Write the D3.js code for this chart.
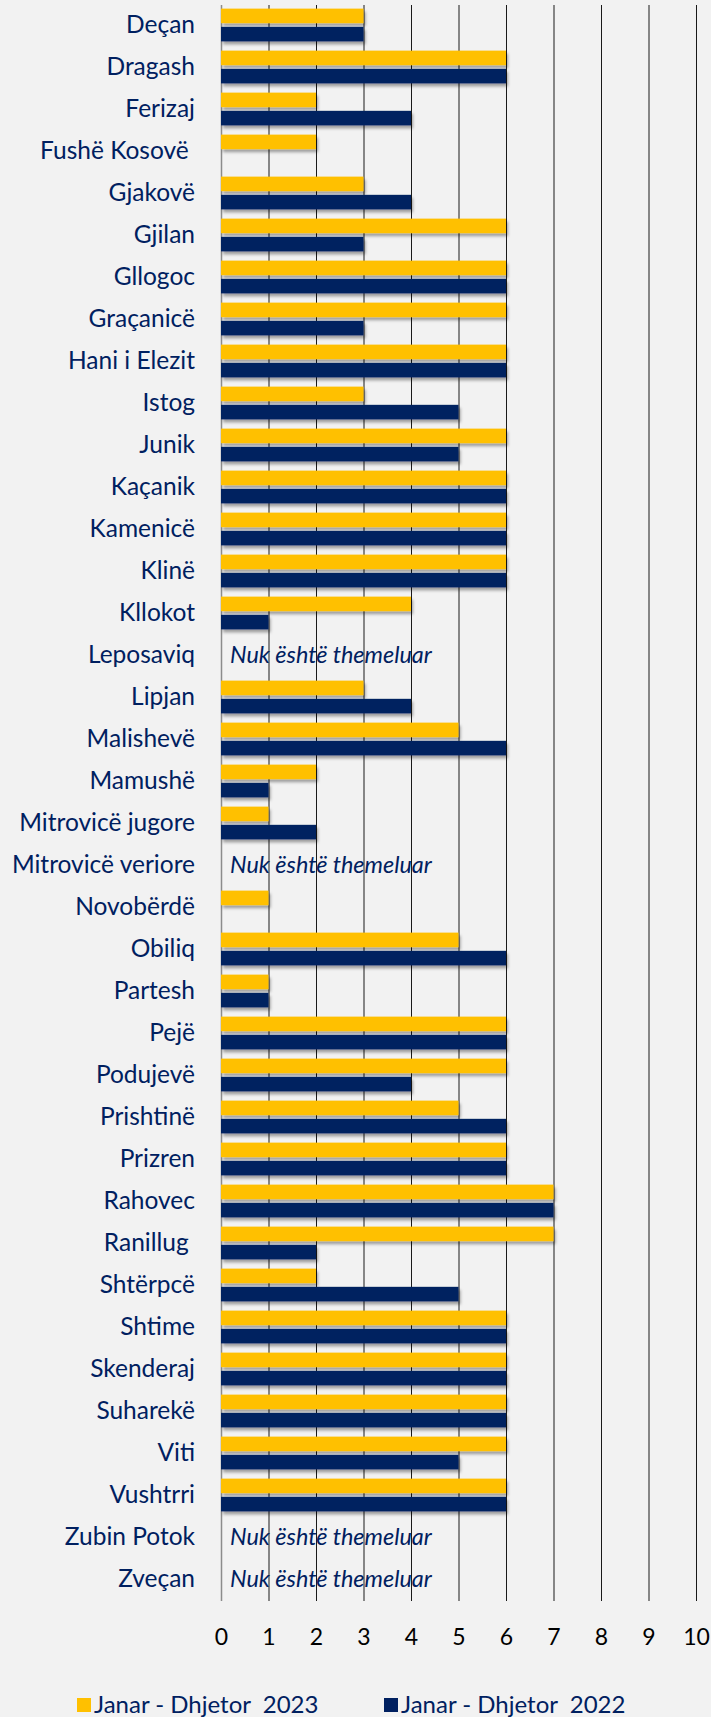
<!DOCTYPE html>
<html>
<head>
<meta charset="utf-8">
<script src="https://cdn.jsdelivr.net/npm/d3@7"></script>
<style>
  html, body { margin: 0; padding: 0; background: #f2f2f2; }
  svg { display: block; font-family: Lato, "Open Sans", sans-serif; }
  text { white-space: pre; }
</style>
</head>
<body>
<div id="chart"></div>
<script>
// Municipalities, values for Jan-Dec 2023 and Jan-Dec 2022 (null = not established)

const municipalities = ['Deçan','Dragash','Ferizaj','Fushë Kosovë ','Gjakovë','Gjilan','Gllogoc','Graçanicë',
	'Hani i Elezit','Istog','Junik','Kaçanik','Kamenicë','Klinë','Kllokot','Leposaviq','Lipjan','Malishevë',
	'Mamushë','Mitrovicë jugore','Mitrovicë veriore','Novobërdë','Obiliq','Partesh','Pejë','Podujevë',
	'Prishtinë','Prizren','Rahovec','Ranillug ','Shtërpcë','Shtime','Skenderaj','Suharekë','Viti','Vushtrri',
	'Zubin Potok','Zveçan'];

const values2023 = [3,6,2,2,3,6,6,6,6,3,6,6,6,6,4,null,3,5,2,1,null,1,5,1,6,6,5,6,7,7,2,6,6,6,6,6,null,null];
const values2022 = [3,6,4,0,4,3,6,3,6,5,5,6,6,6,1,null,4,6,1,2,null,0,6,1,6,4,6,6,7,2,5,6,6,6,5,6,null,null];

const seriesNames = ['Janar - Dhjetor  2023', 'Janar - Dhjetor  2022'];
const seriesColors = ['#ffc000', '#002060'];
const xTicks = [0,1,2,3,4,5,6,7,8,9,10];
const notEstablished = 'Nuk është themeluar';

const W = 711, H = 1717;
const plot = {left: 221, right: 696, top: 4, bottom: 1600};

const rows = municipalities.map((m, i) => ({name: m, v: [values2023[i], values2022[i]]}));

const svg = d3.select('#chart').append('svg')
	.attr('width', W)
	.attr('height', H);

// soft shadow under bars
const defs = svg.append('defs');
defs.append('filter')
	.attr('id', 'shadow')
	.attr('x', '-5%').attr('y', '-30%').attr('width', '115%').attr('height', '180%')
	.append('feDropShadow')
	.attr('dx', 2).attr('dy', 3)
	.attr('stdDeviation', 1.6)
	.attr('flood-color', '#000')
	.attr('flood-opacity', 0.35);

const x = d3.scaleLinear().domain([0, 10]).range([plot.left, plot.right]);

const y = d3.scaleBand()
	.domain(municipalities)
	.range([plot.top, plot.bottom])
	.paddingInner(0.22)
	.paddingOuter(0.11);

const ySub = d3.scaleBand()
	.domain([0, 1])
	.range([0, y.bandwidth()])
	.paddingInner(0.2);

// vertical gridlines
svg.append('g')
	.attr('class', 'grid')
	.attr('transform', `translate(0,${plot.bottom + 1})`)
	.call(d3.axisBottom(x).tickValues(xTicks).tickSize(-(plot.bottom + 1 - 5)).tickFormat(''))
	.call(g => g.select('.domain').remove())
	.call(g => g.selectAll('line')
		.attr('stroke', d => d === 0 ? '#8c8c8c' : '#1a1a1a')
		.attr('stroke-width', d => d === 0 ? 1.5 : 1));

// x tick labels
svg.append('g')
	.attr('transform', `translate(0,${plot.bottom + 1})`)
	.call(d3.axisBottom(x).tickValues(xTicks).tickSize(0).tickPadding(28).tickFormat(d3.format('d')))
	.call(g => g.select('.domain').remove())
	.call(g => g.selectAll('text')
		.attr('fill', '#000')
		.style('font-size', '23px')
		.style('font-family', 'Lato, sans-serif'));

// category labels
svg.append('g')
	.attr('transform', `translate(${plot.left},0)`)
	.call(d3.axisLeft(y).tickSize(0).tickPadding(26))
	.call(g => g.select('.domain').remove())
	.call(g => g.selectAll('text')
		.attr('fill', '#002060')
		.attr('dy', '0.34em')
		.style('font-size', '24.5px')
		.style('font-family', 'Lato, sans-serif'));

// bars
const group = svg.append('g').selectAll('.row')
	.data(rows)
	.enter()
	.append('g')
	.attr('class', 'row')
	.attr('transform', d => `translate(0,${y(d.name)})`);

group.selectAll('rect')
	.data(d => d.v.map((v, k) => ({v, k})).filter(e => e.v !== null && e.v > 0))
	.enter()
	.append('rect')
	.attr('x', x(0))
	.attr('y', d => ySub(d.k))
	.attr('width', d => x(d.v) - x(0))
	.attr('height', ySub.bandwidth())
	.attr('fill', d => seriesColors[d.k])
	.attr('filter', 'url(#shadow)');

// rows where the municipality is not established
group.filter(d => d.v[0] === null && d.v[1] === null)
	.append('text')
	.attr('x', x(0) + 9)
	.attr('y', y.bandwidth() / 2)
	.attr('dy', '0.35em')
	.attr('fill', '#002060')
	.style('font-style', 'italic')
	.style('font-size', '23.4px')
	.text(notEstablished);

// legend
const legend = svg.append('g')
	.attr('transform', 'translate(0,1705)');

const item = legend.selectAll('.item')
	.data(seriesNames)
	.enter()
	.append('g')
	.attr('transform', (d, i) => `translate(${i === 0 ? 77 : 384},0)`);

item.append('rect')
	.attr('x', 0)
	.attr('y', -7)
	.attr('width', 14)
	.attr('height', 14)
	.attr('fill', (d, i) => seriesColors[i]);

item.append('text')
	.attr('x', 17)
	.attr('y', 0)
	.attr('dy', '0.35em')
	.attr('fill', '#002060')
	.style('font-size', '24px')
	.text(d => d);
</script>
</body>
</html>
